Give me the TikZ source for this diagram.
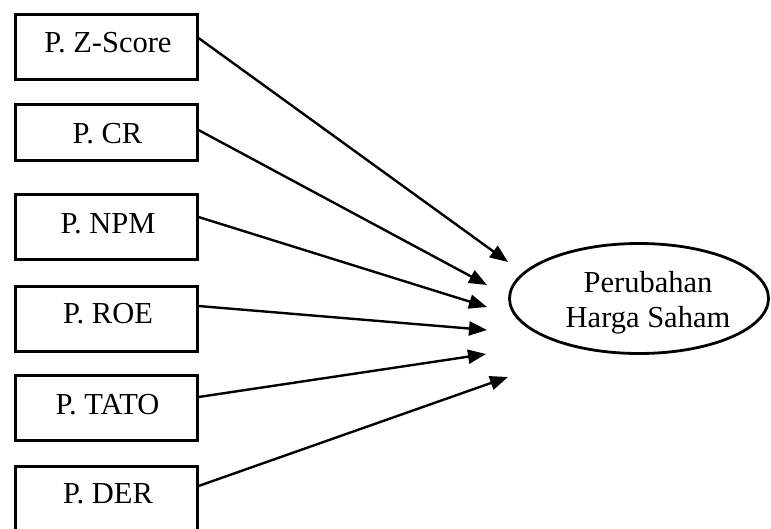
\documentclass[tikz,border=0pt]{standalone}
\usepackage{fontspec}
\setmainfont{Liberation Serif}
\usetikzlibrary{arrows.meta,shapes.geometric}
\begin{document}
\begin{tikzpicture}[x=1pt,y=-1pt,
  box/.style={draw,line width=3pt,minimum width=182pt,inner sep=0pt},
  lbl/.style={anchor=base,inner sep=0pt,font=\fontsize{30.5}{35}\selectfont},
  arr/.style={line width=2.4pt,-{Triangle[length=18pt,width=14pt]}},
  oval/.style={draw,ellipse,line width=2.8pt,minimum width=259pt,minimum height=110pt,inner sep=0pt}]
\useasboundingbox (0,0) rectangle (771,528);
% boxes
\node[box,minimum height=65pt] (b1) at (106,46.5) {};
\node[box,minimum height=56pt] (b2) at (106,132.5) {};
\node[box,minimum height=65pt] (b3) at (106,227) {};
\node[box,minimum height=65pt] (b4) at (106,319) {};
\node[box,minimum height=65pt] (b5) at (106,408) {};
\node[box,minimum height=65pt] (b6) at (106,499) {};
% labels
\node[lbl] (l1) at (108,52) {P. Z-Score};
\node[lbl] (l2) at (107.5,143) {P. CR};
\node[lbl] (l3) at (108,233) {P. NPM};
\node[lbl] (l4) at (108,323) {P. ROE};
\node[lbl] (l5) at (107.5,414) {P. TATO};
\node[lbl] (l6) at (108,503) {P. DER};
% ellipse
\node[oval] (e) at (639,298.5) {};
\node[lbl] (e1) at (648,292) {Perubahan};
\node[lbl] (e2) at (648,327) {Harga Saham};
% arrow tips
\coordinate (t1) at (508,262);
\coordinate (t2) at (487,285);
\coordinate (t3) at (487,307);
\coordinate (t4) at (487,330);
\coordinate (t5) at (486,354);
\coordinate (t6) at (508,377);
\draw[arr] ([yshift=8.5pt]b1.east) -- (t1);
\draw[arr] ([yshift=2.5pt]b2.east) -- (t2);
\draw[arr] ([yshift=10pt]b3.east) -- (t3);
\draw[arr] ([yshift=13pt]b4.east) -- (t4);
\draw[arr] ([yshift=11pt]b5.east) -- (t5);
\draw[arr] ([yshift=13pt]b6.east) -- (t6);
\end{tikzpicture}
\end{document}
